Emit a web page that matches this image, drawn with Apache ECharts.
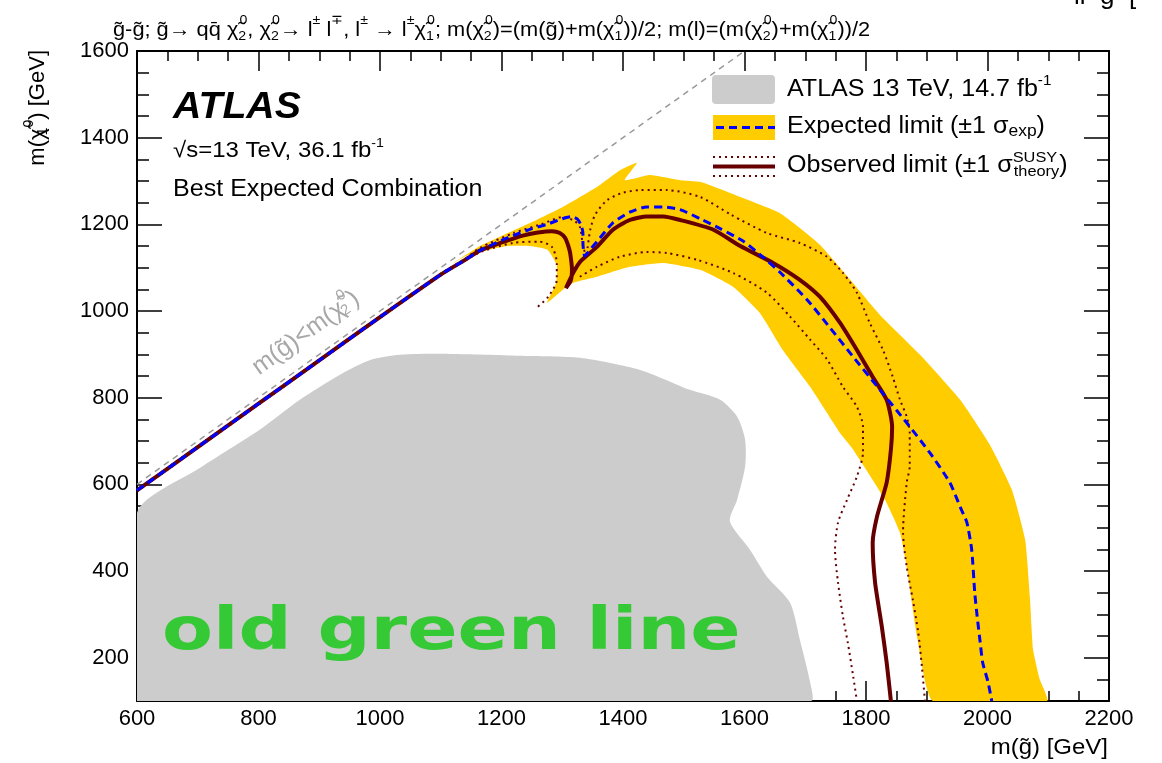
<!DOCTYPE html>
<html>
<head>
<meta charset="utf-8">
<script src="https://cdn.jsdelivr.net/npm/echarts@6/dist/echarts.min.js"></script>
<style>
  html, body { margin: 0; padding: 0; background: #fff; }
  #chart { width: 1162px; height: 763px; }
</style>
</head>
<body>
<div id="chart"></div>
<script>
// ---------------- data (all masses in GeV) ----------------
// axis ticks
const xTicks = [600, 800, 1000, 1200, 1400, 1600, 1800, 2000, 2200];
const yTicks = [200, 400, 600, 800, 1000, 1200, 1400, 1600];
const yMinorTicks = [150, 250, 300, 350, 450, 500, 550, 650, 700, 750, 850, 900, 950,
                     1050, 1100, 1150, 1250, 1300, 1350, 1450, 1500, 1550];

// kinematic boundary m(gluino) = m(chi2)
const diagGluino = [600, 1600];
const diagLsp    = [600, 1600];

// previous ATLAS 13 TeV, 14.7 fb-1 excluded region
const prevGluino = [600, 600, 704, 802, 868, 934, 984, 1033, 1115, 1230, 1329, 1428, 1510, 1560,
                    1588, 1601, 1601, 1588, 1576, 1609, 1637, 1675, 1691, 1708, 1709];
const prevLsp    = [100, 534, 638, 726, 795, 853, 887, 899, 901, 897, 892, 864, 818, 795,
                    756, 703, 641, 565, 514, 449, 387, 327, 242, 143, 100];

// expected limit +-1 sigma_exp band (closed contour)
const bandGluino = [1120, 1165, 1247, 1301, 1357, 1395, 1423, 1403, 1444, 1494, 1527, 1593, 1658,
                    1724, 1774, 1823, 1889, 1955, 2004, 2040, 2062, 2070, 2075, 2086, 2098,
                    1910, 1884, 1867, 1856, 1831, 1779, 1757, 1708, 1663, 1625, 1581, 1527, 1466,
                    1411, 1357, 1318, 1301, 1275, 1290, 1291, 1276, 1247, 1209, 1165, 1140];
const bandLsp    = [1110, 1150, 1203, 1240, 1286, 1325, 1342, 1302, 1314, 1302, 1298, 1263, 1226,
                    1153, 1072, 991, 899, 795, 691, 588, 472, 334, 219, 150, 100,
                    100, 249, 410, 488, 565, 680, 719, 825, 910, 996, 1056, 1095, 1111,
                    1102, 1079, 1065, 1049, 1019, 1065, 1106, 1141, 1150, 1150, 1136, 1126];

// expected limit
const expGluino = [600, 700, 800, 900, 1000, 1100, 1140, 1165, 1200, 1219, 1250, 1275, 1300, 1315,
                   1325, 1331, 1334, 1334, 1335, 1337, 1345, 1357, 1383, 1411, 1439, 1466, 1494,
                   1527, 1560, 1597, 1630, 1658, 1703, 1741, 1779, 1823, 1867, 1905, 1938, 1955,
                   1966, 1974, 1979, 1983, 1988, 1992, 2001, 2007];
const expLsp    = [586, 686, 786, 886, 986, 1084, 1118, 1140, 1163, 1174, 1190, 1200, 1213, 1218,
                   1212, 1198, 1180, 1160, 1140, 1127, 1140, 1160, 1203, 1228, 1240, 1240, 1234,
                   1213, 1190, 1162, 1125, 1090, 1026, 961, 894, 818, 742, 673, 604, 548,
                   512, 449, 350, 295, 235, 189, 143, 100];

// observed limit
const obsGluino = [600, 700, 800, 900, 1000, 1100, 1140, 1165, 1198, 1235, 1260, 1283, 1296, 1305,
                   1310, 1313, 1316, 1314, 1306, 1318, 1329, 1357, 1383, 1411, 1439, 1466, 1494,
                   1548, 1593, 1647, 1691, 1724, 1757, 1785, 1811, 1834, 1843, 1841, 1834, 1818,
                   1811, 1815, 1826, 1834, 1841];
const obsLsp    = [586, 686, 786, 886, 986, 1084, 1118, 1140, 1157, 1174, 1181, 1184, 1180, 1168,
                   1150, 1134, 1095, 1070, 1053, 1088, 1113, 1148, 1187, 1210, 1218, 1218, 1210,
                   1188, 1150, 1111, 1072, 1033, 973, 910, 848, 795, 733, 680, 604, 525,
                   465, 373, 272, 189, 100];

// observed limit, +1 sigma theory
const obsUpGluino = [600, 700, 800, 900, 1000, 1100, 1140, 1165, 1220, 1265, 1301, 1320, 1329, 1334,
                     1339, 1346, 1354, 1374, 1400, 1428, 1472, 1527, 1578, 1637, 1691, 1736, 1762,
                     1785, 1806, 1828, 1844, 1856, 1867, 1872, 1872, 1867, 1861, 1867, 1877, 1886,
                     1892, 1897];
const obsUpLsp    = [588, 688, 788, 888, 988, 1086, 1120, 1146, 1180, 1200, 1217, 1208, 1194, 1152,
                     1130, 1187, 1222, 1256, 1273, 1279, 1279, 1263, 1222, 1180, 1157, 1125, 1088,
                     1042, 973, 910, 848, 795, 756, 719, 641, 604, 489, 410, 334, 258,
                     180, 100];

// observed limit, -1 sigma theory (two separate pieces)
const obsDnAGluino = [600, 700, 800, 900, 1000, 1100, 1140, 1165, 1219, 1263, 1283, 1291, 1291, 1277, 1260];
const obsDnALsp    = [584, 684, 784, 884, 984, 1082, 1116, 1136, 1157, 1160, 1148, 1111, 1072, 1033, 1010];
const obsDnBGluino = [1329, 1357, 1395, 1439, 1472, 1522, 1581, 1637, 1675, 1708, 1736, 1762, 1785,
                      1795, 1795, 1785, 1769, 1754, 1749, 1754, 1762, 1770, 1779, 1785];
const obsDnBLsp    = [1079, 1102, 1125, 1136, 1134, 1118, 1088, 1042, 987, 934, 888, 825, 779,
                      733, 673, 618, 565, 512, 449, 373, 295, 235, 156, 100];

// ---------------- styling ----------------
const FONT = "'Liberation Sans', Arial, Helvetica, sans-serif";
const GREY = '#cccccc';
const YELLOW = '#ffcc00';
const BLUE = '#0000ff';
const DARKRED = '#660000';
const STRETCH = 1.09;

const pairs = (xs, ys) => xs.map((x, i) => [x, ys[i]]);

function area(xs, ys, color, smooth) {
  const pts = pairs(xs, ys);
  return {
    type: 'custom', xAxisIndex: 0, yAxisIndex: 0, clip: true, silent: true,
    data: pts,
    renderItem: (params, api) => params.dataIndex !== 0 ? null : {
      type: 'polygon',
      shape: { points: pts.map(p => api.coord(p)), smooth: smooth },
      style: { fill: color }
    }
  };
}

function curve(xs, ys, lineStyle, smooth) {
  return {
    type: 'line', xAxisIndex: 0, yAxisIndex: 0, silent: true,
    data: pairs(xs, ys),
    symbol: 'none', showSymbol: false,
    smooth: smooth, lineStyle: lineStyle
  };
}

const axisLineStyle = { color: '#000', width: 2 };
const tickStyle = { color: '#000', width: 1.5 };
const plainNumber = v => String(v);

function xAxisDef(position, showLabels) {
  return {
    type: 'value', position: position, min: 600, max: 2200, interval: 200,
    axisLine: { show: true, onZero: false, lineStyle: axisLineStyle },
    axisTick: { show: true, inside: true, length: 20, lineStyle: tickStyle },
    minorTick: { show: true, splitNumber: 4, length: 10, lineStyle: tickStyle },
    splitLine: { show: false },
    axisLabel: {
      show: showLabels, customValues: xTicks, formatter: plainNumber, color: '#000', fontSize: 22,
      fontFamily: FONT, margin: 7
    }
  };
}

function yAxisDef(position, major, showLabels) {
  return {
    type: 'value', position: position, min: 100, max: 1600,
    axisLine: { show: major, onZero: false, lineStyle: axisLineStyle },
    axisTick: {
      show: true, inside: true, length: major ? 25 : 12,
      customValues: major ? yTicks : yMinorTicks, lineStyle: tickStyle
    },
    minorTick: { show: false },
    splitLine: { show: false },
    axisLabel: {
      show: showLabels, customValues: yTicks, formatter: plainNumber, color: '#000', fontSize: 22,
      fontFamily: FONT, margin: 8
    }
  };
}

// rich text styles: b = body, s/k = subscript (k has no advance), p/q = superscript (q has no advance)
function richSet(size, subSize, subDrop, supRise, color) {
  const c = color || '#000';
  return {
    b: { fontSize: size, fontFamily: FONT, fill: c },
    s: { fontSize: subSize, fontFamily: FONT, fill: c, padding: [subDrop * 2, 0, 0, 0] },
    k: { fontSize: subSize, fontFamily: FONT, fill: c, padding: [subDrop * 2, 0, 0, 0], width: 1 },
    p: { fontSize: subSize, fontFamily: FONT, fill: c, padding: [0, 0, supRise * 2, 0] },
    q: { fontSize: subSize, fontFamily: FONT, fill: c, padding: [0, 0, supRise * 2, 0], width: 1 }
  };
}

const g = 'g\u0303';
const chi = '\u03c7\u0303';

const titleText =
  '{b|' + g + '-' + g + '; ' + g + '\u2192 qq\u0304 ' + chi + '}{k|2}{p|0}' +
  '{b|, ' + chi + '}{k|2}{p|0}{b|\u2192 l}{p|\u00b1}{b| l}{p|\u2213}{b|, l}{p|\u00b1}{b| \u2192 l}{p|\u00b1}' +
  '{b|' + chi + '}{k|1}{p|0}{b|; m(' + chi + '}{k|2}{p|0}{b|)=(m(' + g + ')+m(' + chi + '}{k|1}{p|0}' +
  '{b|))/2; m(l)=(m(' + chi + '}{k|2}{p|0}{b|)+m(' + chi + '}{k|1}{p|0}{b|))/2}';

const chart = echarts.init(document.getElementById('chart'), null, { renderer: 'canvas' });

chart.setOption({
  animation: false,
  backgroundColor: '#ffffff',
  grid: { left: 137, right: 53, top: 51, bottom: 62, containLabel: false, outerBoundsMode: 'none' },
  xAxis: [xAxisDef('bottom', true), xAxisDef('top', false)],
  yAxis: [
    yAxisDef('left', true, true),
    yAxisDef('left', false, false),
    yAxisDef('right', true, false),
    yAxisDef('right', false, false)
  ],
  series: [
    area(prevGluino, prevLsp, GREY, 0.25),
    area(bandGluino, bandLsp, YELLOW, 0.15),
    curve(diagGluino, diagLsp, { color: '#999999', width: 1.5, type: [6, 5] }, false),
    curve(obsUpGluino, obsUpLsp, { color: DARKRED, width: 2, type: [2, 4] }, 0.25),
    curve(obsDnAGluino, obsDnALsp, { color: DARKRED, width: 2, type: [2, 4] }, 0.25),
    curve(obsDnBGluino, obsDnBLsp, { color: DARKRED, width: 2, type: [2, 4] }, 0.25),
    curve(obsGluino, obsLsp, { color: DARKRED, width: 4 }, 0.2),
    curve(expGluino, expLsp, { color: BLUE, width: 3, type: [8, 5] }, 0.2)
  ],
  graphic: [
    // process / mass-assumption header
    { type: 'text', x: 113, y: 30, scaleX: STRETCH, z: 10,
      style: { text: titleText, rich: richSet(20, 13, 6, 10), verticalAlign: 'middle', align: 'left' } },
    // clipped line of text above the header
    { type: 'text', x: 1074, y: -3, z: 10,
      style: { text: 'll  g  [', fontSize: 26, fontFamily: FONT, fill: '#000', verticalAlign: 'middle' } },

    // ATLAS label block
    { type: 'text', x: 173, y: 108, scaleX: STRETCH, z: 10,
      style: { text: 'ATLAS', fontSize: 36, fontWeight: 'bold', fontStyle: 'italic', fontFamily: FONT,
               fill: '#000', verticalAlign: 'middle' } },
    { type: 'text', x: 173, y: 151, scaleX: STRETCH, z: 10,
      style: { text: '{b|\u221as=13 TeV, 36.1 fb}{p|-1}', rich: richSet(22, 13, 0, 8), verticalAlign: 'middle' } },
    { type: 'text', x: 173, y: 190, scaleX: STRETCH, z: 10,
      style: { text: 'Best Expected Combination', fontSize: 23, fontFamily: FONT, fill: '#000',
               verticalAlign: 'middle' } },

    // legend
    { type: 'rect', z: 10, shape: { x: 712, y: 75, width: 63, height: 29, r: 4 }, style: { fill: GREY } },
    { type: 'rect', z: 10, shape: { x: 713, y: 115, width: 62, height: 25 }, style: { fill: YELLOW } },
    { type: 'line', z: 11, shape: { x1: 716, y1: 127.5, x2: 775, y2: 127.5 },
      style: { stroke: BLUE, lineWidth: 3, lineDash: [8, 5] } },
    { type: 'line', z: 11, shape: { x1: 713, y1: 157, x2: 775, y2: 157 },
      style: { stroke: DARKRED, lineWidth: 2, lineDash: [2, 4] } },
    { type: 'line', z: 11, shape: { x1: 713, y1: 166.5, x2: 775, y2: 166.5 },
      style: { stroke: DARKRED, lineWidth: 4 } },
    { type: 'line', z: 11, shape: { x1: 713, y1: 176, x2: 775, y2: 176 },
      style: { stroke: DARKRED, lineWidth: 2, lineDash: [2, 4] } },
    { type: 'text', x: 787, y: 90, scaleX: STRETCH, z: 10,
      style: { text: '{b|ATLAS 13 TeV, 14.7 fb}{p|-1}', rich: richSet(23, 14, 0, 9), verticalAlign: 'middle' } },
    { type: 'text', x: 787, y: 127, scaleX: STRETCH, z: 10,
      style: { text: '{b|Expected limit (\u00b11 \u03c3}{s|exp}{b|)}', rich: richSet(23, 16, 5, 0), verticalAlign: 'middle' } },
    { type: 'text', x: 787, y: 166, scaleX: STRETCH, z: 10,
      style: { text: '{b|Observed limit (\u00b11 \u03c3}{q|SUSY}{s|theory}{b|)}', rich: richSet(23, 15, 6, 8), verticalAlign: 'middle' } },

    // kinematic boundary label
    { type: 'text', x: 306, y: 333, rotation: 35.8 * Math.PI / 180, z: 10,
      style: { text: '{b|m(' + g + ')<m(' + chi + '}{k|2}{p|0}{b|)}',
               rich: richSet(25, 15, 5, 10, '#a8a8a8'), align: 'center', verticalAlign: 'middle' } },

    // axis titles
    { type: 'text', x: 1108, y: 748, scaleX: STRETCH, z: 10,
      style: { text: 'm(' + g + ') [GeV]', fontSize: 22, fontFamily: FONT, fill: '#000',
               align: 'right', verticalAlign: 'middle' } },
    { type: 'text', x: 38, y: 50, rotation: Math.PI / 2, z: 10,
      style: { text: '{b|m(' + chi + '}{k|1}{p|0}{b|) [GeV]}', rich: richSet(22, 14, 5, 9),
               align: 'right', verticalAlign: 'middle' } },

    // hand-written annotation
    { type: 'text', x: 162, y: 634, scaleX: 1.28, z: 10,
      style: { text: 'old green line', fontSize: 58, fontWeight: 'bold',
               fontFamily: "'DejaVu Sans', sans-serif", fill: '#36c936', verticalAlign: 'middle' } }
  ]
});
</script>
</body>
</html>
